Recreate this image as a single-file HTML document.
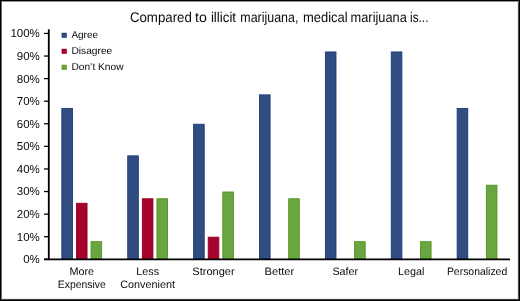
<!DOCTYPE html>
<html><head><meta charset="utf-8"><style>
html,body{margin:0;padding:0;background:#fff;}
body{width:520px;height:301px;overflow:hidden;}
.frame{position:absolute;left:0;top:0;width:520px;height:301px;box-sizing:border-box;border:1px solid #000;box-shadow:inset 1px 0 0 #6a6a6a, inset 0 1px 0 #909090, inset -1px 0 0 #4a4a4a, inset 0 -1px 0 #404040, inset -2px 0 0 #ececec, inset 0 -2px 0 #ececec;}
svg{position:absolute;left:0;top:0;will-change:transform;}
text{font-family:"Liberation Sans",sans-serif;fill:#0a0a0a;text-rendering:geometricPrecision;}
.xl{font-size:10.8px;text-anchor:middle;}
.yl{font-size:11.5px;text-anchor:end;}
.lg{font-size:10px;}
.tt{font-size:14px;}
</style></head><body>
<svg width="520" height="301" viewBox="0 0 520 301">
<rect x="0" y="0" width="520" height="301" fill="#fff"/>
<rect x="61.84" y="108.42" width="10.60" height="150.43" fill="#304c80" stroke="#1a3a7a" stroke-width="0.9"/>
<rect x="76.44" y="203.28" width="10.60" height="55.56" fill="#a4032c" stroke="#98001c" stroke-width="0.9"/>
<rect x="91.04" y="241.68" width="10.60" height="17.17" fill="#69a640" stroke="#4f9523" stroke-width="0.9"/>
<text x="81.74" y="274.6" class="xl">More</text>
<text x="81.74" y="288.3" class="xl" textLength="47.9" lengthAdjust="spacingAndGlyphs">Expensive</text>
<rect x="127.73" y="155.85" width="10.60" height="103.00" fill="#304c80" stroke="#1a3a7a" stroke-width="0.9"/>
<rect x="142.33" y="198.77" width="10.60" height="60.08" fill="#a4032c" stroke="#98001c" stroke-width="0.9"/>
<rect x="156.93" y="198.77" width="10.60" height="60.08" fill="#69a640" stroke="#4f9523" stroke-width="0.9"/>
<text x="147.63" y="274.6" class="xl">Less</text>
<text x="147.63" y="288.3" class="xl">Convenient</text>
<rect x="193.61" y="124.23" width="10.60" height="134.62" fill="#304c80" stroke="#1a3a7a" stroke-width="0.9"/>
<rect x="208.21" y="237.16" width="10.60" height="21.69" fill="#a4032c" stroke="#98001c" stroke-width="0.9"/>
<rect x="222.81" y="191.99" width="10.60" height="66.86" fill="#69a640" stroke="#4f9523" stroke-width="0.9"/>
<text x="213.51" y="274.6" class="xl" textLength="42.4" lengthAdjust="spacingAndGlyphs">Stronger</text>
<rect x="259.50" y="94.87" width="10.60" height="163.98" fill="#304c80" stroke="#1a3a7a" stroke-width="0.9"/>
<rect x="288.70" y="198.77" width="10.60" height="60.08" fill="#69a640" stroke="#4f9523" stroke-width="0.9"/>
<text x="279.40" y="274.6" class="xl" textLength="29.9" lengthAdjust="spacingAndGlyphs">Better</text>
<rect x="325.39" y="51.96" width="10.60" height="206.89" fill="#304c80" stroke="#1a3a7a" stroke-width="0.9"/>
<rect x="354.59" y="241.68" width="10.60" height="17.17" fill="#69a640" stroke="#4f9523" stroke-width="0.9"/>
<text x="345.29" y="274.6" class="xl">Safer</text>
<rect x="391.27" y="51.96" width="10.60" height="206.89" fill="#304c80" stroke="#1a3a7a" stroke-width="0.9"/>
<rect x="420.47" y="241.68" width="10.60" height="17.17" fill="#69a640" stroke="#4f9523" stroke-width="0.9"/>
<text x="411.17" y="274.6" class="xl">Legal</text>
<rect x="457.16" y="108.42" width="10.60" height="150.43" fill="#304c80" stroke="#1a3a7a" stroke-width="0.9"/>
<rect x="486.36" y="185.22" width="10.60" height="73.63" fill="#69a640" stroke="#4f9523" stroke-width="0.9"/>
<text x="477.06" y="274.6" class="xl" textLength="60.3" lengthAdjust="spacingAndGlyphs">Personalized</text>
<line x1="48.8" y1="29.3" x2="48.8" y2="260.1" stroke="#000" stroke-width="1.85"/>
<line x1="44" y1="259.33" x2="510.0" y2="259.33" stroke="#000" stroke-width="1.65"/>
<line x1="44" y1="259.30" x2="48.8" y2="259.30" stroke="#000" stroke-width="1.3"/>
<text x="39.8" y="263.20" class="yl">0%</text>
<line x1="44" y1="236.71" x2="48.8" y2="236.71" stroke="#000" stroke-width="1.3"/>
<text x="39.8" y="240.61" class="yl">10%</text>
<line x1="44" y1="214.13" x2="48.8" y2="214.13" stroke="#000" stroke-width="1.3"/>
<text x="39.8" y="218.03" class="yl">20%</text>
<line x1="44" y1="191.54" x2="48.8" y2="191.54" stroke="#000" stroke-width="1.3"/>
<text x="39.8" y="195.44" class="yl">30%</text>
<line x1="44" y1="168.96" x2="48.8" y2="168.96" stroke="#000" stroke-width="1.3"/>
<text x="39.8" y="172.86" class="yl">40%</text>
<line x1="44" y1="146.37" x2="48.8" y2="146.37" stroke="#000" stroke-width="1.3"/>
<text x="39.8" y="150.27" class="yl">50%</text>
<line x1="44" y1="123.78" x2="48.8" y2="123.78" stroke="#000" stroke-width="1.3"/>
<text x="39.8" y="127.68" class="yl">60%</text>
<line x1="44" y1="101.20" x2="48.8" y2="101.20" stroke="#000" stroke-width="1.3"/>
<text x="39.8" y="105.10" class="yl">70%</text>
<line x1="44" y1="78.61" x2="48.8" y2="78.61" stroke="#000" stroke-width="1.3"/>
<text x="39.8" y="82.51" class="yl">80%</text>
<line x1="44" y1="56.03" x2="48.8" y2="56.03" stroke="#000" stroke-width="1.3"/>
<text x="39.8" y="59.93" class="yl">90%</text>
<line x1="44" y1="33.44" x2="48.8" y2="33.44" stroke="#000" stroke-width="1.3"/>
<text x="39.8" y="37.34" class="yl">100%</text>
<rect x="61.9" y="33.00" width="4.8" height="4.7" fill="#304c80" stroke="#1a3a7a" stroke-width="0.5"/>
<text x="71.4" y="38.10" class="lg">Agree</text>
<rect x="61.9" y="49.00" width="4.8" height="4.7" fill="#a4032c" stroke="#98001c" stroke-width="0.5"/>
<text x="71.4" y="54.15" class="lg" textLength="40.9" lengthAdjust="spacingAndGlyphs">Disagree</text>
<rect x="61.9" y="65.00" width="4.8" height="4.7" fill="#69a640" stroke="#4f9523" stroke-width="0.5"/>
<text x="71.4" y="70.20" class="lg" textLength="52.2" lengthAdjust="spacingAndGlyphs">Don’t Know</text>
<text x="129.90" y="21.6" class="tt" textLength="62.00" lengthAdjust="spacingAndGlyphs">Compared</text>
<text x="195.00" y="21.6" class="tt" textLength="11.80" lengthAdjust="spacingAndGlyphs">to</text>
<text x="210.90" y="21.6" class="tt" textLength="25.20" lengthAdjust="spacingAndGlyphs">illicit</text>
<text x="240.30" y="21.6" class="tt" textLength="58.10" lengthAdjust="spacingAndGlyphs">marijuana,</text>
<text x="303.00" y="21.6" class="tt" textLength="44.60" lengthAdjust="spacingAndGlyphs">medical</text>
<text x="350.60" y="21.6" class="tt" textLength="56.20" lengthAdjust="spacingAndGlyphs">marijuana</text>
<text x="410.10" y="21.6" class="tt" textLength="18.30" lengthAdjust="spacingAndGlyphs">is...</text>
</svg>
<div class="frame"></div>
</body></html>
